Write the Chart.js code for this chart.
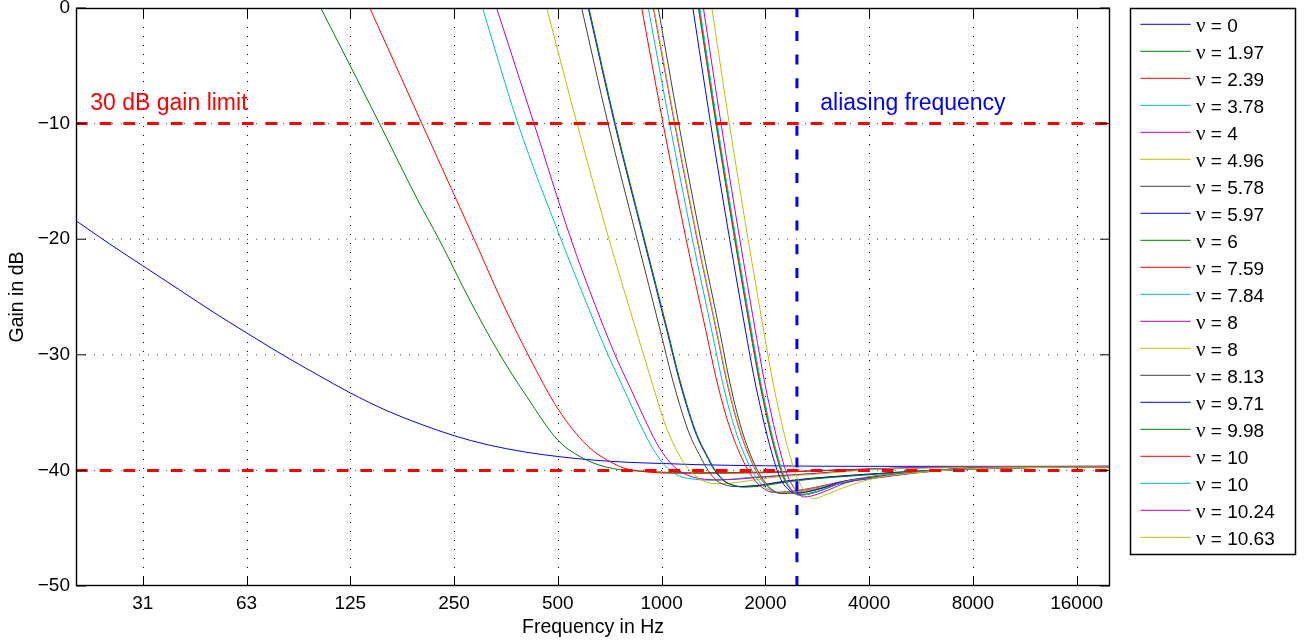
<!DOCTYPE html>
<html><head><meta charset="utf-8">
<script src="https://cdn.jsdelivr.net/npm/chart.js@4/dist/chart.umd.min.js"></script>
<style>html,body{margin:0;padding:0;background:#fff;overflow:hidden}#wrap{width:1306px;height:641px}</style>
</head><body>
<div id="wrap"><canvas id="c" width="1306" height="641"></canvas></div>
<script>
// ---------- data (frequency in Hz, gain in dB) ----------
const nuLabels = ['0','1.97','2.39','3.78','4','4.96','5.78','5.97','6','7.59','7.84','8','8','8.13','9.71','9.98','10','10','10.24','10.63'];
const colorCycle = ['#0000ff','#008000','#ff0000','#00bfbf','#bf00bf','#bfbf00','#404040'];
const xTickValues = [31.25,62.5,125,250,500,1000,2000,4000,8000,16000];
const xTickLabels = ['31','63','125','250','500','1000','2000','4000','8000','16000'];
const yTickValues = [-50,-40,-30,-20,-10,0];
const limitLevels = [-10,-40];
const aliasingFreq = 2470;
const annotationTexts = ['30 dB gain limit','aliasing frequency'];
const annotationFreqs = [22, 2886];
const annotationGains = [-8.8, -8.8];

const gain_nu0 = [[20,-18.4],[25,-20.4],[31.25,-22.3],[40,-24.4],[50,-26.3],[62.5,-28.1],[80,-30.05],[100,-31.7],[125,-33.3],[160,-34.85],[200,-36.0],[250,-37.0],[315,-37.8],[400,-38.4],[500,-38.8],[630,-39.1],[800,-39.3],[1000,-39.4],[1250,-39.5],[2000,-39.6],[4000,-39.65],[20000,-39.65]];
const gain_nu197 = [[102.6,0],[152,-10],[196,-16.6],[226,-20],[278,-25.3],[340,-30],[406,-33.6],[501,-37.4],[606,-39.1],[725,-39.85],[866,-40.05],[1200,-40.2],[2000,-40.15],[3000,-40.0],[5000,-39.8],[8000,-39.7],[20000,-39.65]];
const gain_nu239 = [[142.4,0],[201.6,-10],[286,-20],[343,-25.3],[410,-30],[501,-34.7],[606,-37.8],[725,-39.4],[828,-40.0],[1200,-40.25],[2000,-40.2],[3000,-40.0],[5000,-39.8],[8000,-39.7],[20000,-39.65]];
const gain_nu378 = [[302.4,0],[383,-10],[510.6,-20],[595.6,-25],[699.2,-30],[778.2,-33],[865.8,-36],[938.6,-38],[1016.8,-39.5],[1109,-40.4],[1276,-40.8],[1400,-40.85],[1816,-40.6],[2823,-40.25],[4000,-39.9],[8000,-39.7],[20000,-39.65]];
const gain_nu4 = [[332.2,0],[426.4,-10],[546,-20],[628.4,-25],[732.8,-30],[815.4,-33],[907.6,-36],[983.2,-38],[1072.6,-39.5],[1186,-40.4],[1383,-40.8],[1480,-40.82],[2020,-40.55],[2823,-40.25],[4000,-39.9],[8000,-39.7],[20000,-39.65]];
const gain_nu496 = [[464.2,0],[568.4,-10],[703.8,-20],[788.8,-25],[886.6,-30],[951.2,-33],[1023.6,-36],[1094.4,-38],[1170,-39.5],[1259.4,-40.5],[1383,-41.1],[1498,-41.15],[1690,-41.0],[2112,-40.6],[2886,-40.3],[4000,-39.95],[8000,-39.75],[20000,-39.65]];
const gain_nu578 = [[586.4,0],[699.2,-10],[849,-20],[993.2,-28],[1072.6,-32],[1147,-35],[1210,-37],[1285,-38.6],[1364.6,-40],[1449.2,-40.9],[1549.6,-41.3],[1634.6,-41.4],[1890,-41.3],[2309,-40.9],[4113,-40.3],[8030,-39.85],[20000,-39.7]];
const gain_nu597 = [[612.8,0],[730.7,-10],[887.2,-20],[1037.9,-28],[1120.9,-32],[1198.6,-35],[1264.5,-37],[1342.8,-38.6],[1426,-40],[1514.4,-40.9],[1619.3,-41.3],[1708,-41.4],[1932,-41.3],[2361,-40.9],[4113,-40.3],[8030,-39.85],[20000,-39.7]];
const gain_nu6 = [[615.7,0],[734.2,-10],[891.5,-20],[1042.9,-28],[1126.2,-32],[1204.4,-35],[1270.5,-37],[1349.3,-38.6],[1432.8,-40],[1521.7,-40.9],[1627.1,-41.3],[1716.3,-41.45],[1940,-41.35],[2370,-40.95],[4113,-40.35],[8030,-39.85],[20000,-39.7]];
const gain_nu759 = [[875.6,0],[1010,-10],[1178,-20],[1346.4,-28],[1439.4,-32],[1529,-35],[1607.6,-37],[1690.2,-38.6],[1783.2,-40],[1881.4,-41],[1984.6,-41.6],[2108,-41.9],[2524,-41.7],[3300,-41.0],[4113,-40.5],[5745,-40.1],[8030,-39.85],[20000,-39.7]];
const gain_nu784 = [[915,0],[1055.5,-10],[1228.7,-20],[1400,-28],[1492.7,-32],[1581,-35],[1657.4,-37],[1737.5,-38.6],[1827.8,-40],[1922.8,-41],[2024.3,-41.6],[2150,-41.9],[2524,-41.75],[3300,-41.05],[4113,-40.5],[5745,-40.1],[8030,-39.85],[20000,-39.7]];
const gain_nu8a = [[946.5,0],[1090.8,-10],[1267.5,-20],[1443.3,-28],[1537.3,-32],[1626.9,-35],[1704.1,-37],[1784.9,-38.6],[1875.9,-40],[1971.7,-41],[2071.9,-41.65],[2192.3,-41.95],[2524,-41.8],[3300,-41.1],[4113,-40.55],[5745,-40.1],[8030,-39.85],[20000,-39.7]];
const gain_nu8b = [[950.3,0],[1095.2,-10],[1272.6,-20],[1449,-28],[1543.4,-32],[1633.4,-35],[1710.9,-37],[1792,-38.6],[1883.4,-40],[1979.6,-41],[2080.2,-41.65],[2201,-41.95],[2534,-41.8],[3300,-41.1],[4113,-40.55],[5745,-40.1],[8030,-39.85],[20000,-39.7]];
const gain_nu813 = [[978,0],[1121.1,-10],[1299.3,-20],[1475.7,-28],[1567.5,-32],[1654.4,-35],[1729.8,-37],[1808.5,-38.6],[1899.1,-40],[1994.3,-41],[2097.7,-41.7],[2224,-42.0],[2610,-41.85],[3300,-41.15],[4113,-40.6],[5745,-40.15],[8030,-39.85],[20000,-39.7]];
const gain_nu971 = [[1232.4,0],[1387.6,-10],[1575.8,-20],[1754,-28],[1856.4,-32],[1951.6,-35],[2024.6,-37],[2093.6,-38.6],[2164.6,-40],[2238.2,-41],[2322.2,-41.6],[2442,-42.0],[2610,-41.9],[2944,-41.5],[3300,-41.0],[4113,-40.6],[5745,-40.1],[8030,-39.8],[20000,-39.7]];
const gain_nu998 = [[1279.2,0],[1437.6,-10],[1629.4,-20],[1810.1,-28],[1912.1,-32],[2006.2,-35],[2077.2,-37],[2146,-38.6],[2216.6,-40],[2287.4,-41],[2371,-41.65],[2491,-42.1],[2663,-42.0],[2984,-41.6],[3366,-41.0],[4113,-40.65],[5745,-40.1],[8030,-39.8],[20000,-39.7]];
const gain_nu10a = [[1285,0],[1444.1,-10],[1636.7,-20],[1818.2,-28],[1920.7,-32],[2015.2,-35],[2086.5,-37],[2155.7,-38.6],[2226.6,-40],[2297.7,-41],[2381.7,-41.7],[2502.2,-42.15],[2670,-42.05],[2990,-41.6],[3370,-41.0],[4113,-40.65],[5745,-40.1],[8030,-39.8],[20000,-39.7]];
const gain_nu10b = [[1290.7,0],[1450.5,-10],[1644.1,-20],[1826.4,-28],[1929.3,-32],[2024.3,-35],[2095.9,-37],[2165.3,-38.6],[2236.6,-40],[2308,-41],[2392.3,-41.7],[2513.3,-42.15],[2676,-42.05],[2996,-41.6],[3375,-41.0],[4113,-40.65],[5745,-40.1],[8030,-39.8],[20000,-39.7]];
const gain_nu1024 = [[1322.4,0],[1487.5,-10],[1686.1,-20],[1873.3,-28],[1978.9,-32],[2076.5,-35],[2150.1,-37],[2219.2,-38.6],[2290.2,-40],[2365.8,-41],[2452.2,-41.7],[2576.3,-42.3],[2735,-42.2],[3044,-41.7],[3480,-41.0],[4113,-40.7],[5745,-40.15],[8030,-39.85],[20000,-39.7]];
const gain_nu1063 = [[1398.8,0],[1572.2,-10],[1782.2,-20],[1980.3,-28],[2092.2,-32],[2195.6,-35],[2275.7,-37],[2351.1,-38.6],[2428.7,-40],[2509,-41],[2600.9,-41.8],[2760,-42.45],[2944,-42.2],[3300,-41.6],[4113,-40.7],[5745,-40.15],[8030,-39.85],[20000,-39.7]];

const curveSeries = [gain_nu0,gain_nu197,gain_nu239,gain_nu378,gain_nu4,gain_nu496,gain_nu578,gain_nu597,gain_nu6,gain_nu759,gain_nu784,gain_nu8a,gain_nu8b,gain_nu813,gain_nu971,gain_nu998,gain_nu10a,gain_nu10b,gain_nu1024,gain_nu1063];

// ---------- chart ----------
const FONT = '"Liberation Sans", Arial, Helvetica, sans-serif';
const datasets = curveSeries.map((pts, i) => ({
  label: 'ν = ' + nuLabels[i],
  data: pts.map(p => ({x: p[0], y: p[1]})),
  borderColor: colorCycle[i % colorCycle.length],
  borderWidth: 1,
  pointRadius: 0,
  fill: false,
  cubicInterpolationMode: 'monotone',
  order: 100 - i,
  isCurve: true
}));
limitLevels.forEach(l => datasets.push({
  label: 'limit', data: [{x: 20, y: l}, {x: 20000, y: l}],
  borderColor: '#ff0000', borderWidth: 3, borderDash: [11.7, 12], pointRadius: 0, order: -1
}));
datasets.push({
  label: 'aliasing', data: [{x: aliasingFreq, y: -50}, {x: aliasingFreq, y: 0}],
  borderColor: '#0000ff', borderWidth: 3, borderDash: [10, 13.7], pointRadius: 0, order: -2
});

const framePlugin = {
  id: 'frame',
  beforeDatasetsDraw(chart) {
    const {ctx, chartArea: a, scales: {x, y}} = chart;
    ctx.save();
    ctx.strokeStyle = '#000';
    ctx.lineWidth = 1;
    ctx.setLineDash([1, 8]);
    xTickValues.forEach(v => {
      const px = Math.round(x.getPixelForValue(v)) + 0.5;
      ctx.beginPath(); ctx.moveTo(px, a.bottom); ctx.lineTo(px, a.top); ctx.stroke();
    });
    ctx.strokeStyle = '#444';
    yTickValues.forEach(v => {
      if (v <= -50 || v >= 0) return;
      const py = y.getPixelForValue(v);
      ctx.beginPath(); ctx.moveTo(a.left, py); ctx.lineTo(a.right, py); ctx.stroke();
    });
    ctx.restore();
  },
  afterDatasetsDraw(chart) {
    const {ctx, chartArea: a, scales: {x, y}} = chart;
    ctx.save();
    ctx.strokeStyle = '#000';
    ctx.lineWidth = 1;
    ctx.setLineDash([]);
    xTickValues.forEach(v => {
      const px = Math.round(x.getPixelForValue(v)) + 0.5;
      ctx.beginPath();
      ctx.moveTo(px, a.bottom); ctx.lineTo(px, a.bottom - 10);
      ctx.moveTo(px, a.top); ctx.lineTo(px, a.top + 10);
      ctx.stroke();
    });
    yTickValues.forEach(v => {
      const py = y.getPixelForValue(v);
      ctx.beginPath();
      ctx.moveTo(a.left, py); ctx.lineTo(a.left + 10, py);
      ctx.moveTo(a.right, py); ctx.lineTo(a.right - 10, py);
      ctx.stroke();
    });
    ctx.lineWidth = 1.4;
    ctx.strokeRect(a.left + 0.5, a.top + 0.5, a.right - a.left - 1, a.bottom - a.top - 1);
    ctx.font = '23px ' + FONT;
    ctx.textBaseline = 'alphabetic';
    ctx.textAlign = 'left';
    const annColors = ['#ff0000', '#0000ff'];
    annotationTexts.forEach((t, i) => {
      ctx.fillStyle = annColors[i];
      ctx.fillText(t, x.getPixelForValue(annotationFreqs[i]), y.getPixelForValue(annotationGains[i]));
    });
    ctx.restore();
  },
  afterDraw(chart) {
    const ctx = chart.ctx;
    const L = 1130, T = 8, R = 1295, B = 554;
    ctx.save();
    ctx.fillStyle = '#fff';
    ctx.fillRect(L, T, R - L, B - T);
    ctx.strokeStyle = '#000';
    ctx.lineWidth = 1.5;
    ctx.strokeRect(L + 0.5, T + 0.5, R - L, B - T);
    const items = chart.data.datasets.filter(d => d.isCurve);
    items.forEach((d, i) => {
      const cy = 24.3 + 27 * i;
      ctx.strokeStyle = d.borderColor;
      ctx.lineWidth = 1;
      ctx.beginPath(); ctx.moveTo(1140.3, cy); ctx.lineTo(1190.7, cy); ctx.stroke();
      ctx.fillStyle = '#000';
      ctx.textBaseline = 'alphabetic';
      ctx.font = '21px "Liberation Serif", serif';
      ctx.fillText('ν', 1196, cy + 8);
      const w = ctx.measureText('ν').width;
      ctx.font = '19px ' + FONT;
      ctx.fillText(' = ' + nuLabels[i], 1196 + w, cy + 8);
    });
    ctx.restore();
  }
};

new Chart(document.getElementById('c'), {
  type: 'line',
  data: {datasets},
  options: {
    responsive: false,
    animation: false,
    devicePixelRatio: 1,
    layout: {padding: {left: 0, right: 196, top: 8, bottom: 0}},
    plugins: {legend: {display: false}, tooltip: {enabled: false}},
    scales: {
      x: {
        type: 'logarithmic', min: 20, max: 20000,
        afterBuildTicks: s => { s.ticks = xTickValues.map(v => ({value: v})); },
        afterFit: s => { s.height = 55; s.paddingLeft = 0; s.paddingRight = 0; },
        ticks: {autoSkip: false, maxRotation: 0, minRotation: 0, padding: 6, color: '#000',
          font: {family: FONT, size: 19}, callback: (v, i) => xTickLabels[i]},
        grid: {display: false, drawTicks: false},
        border: {display: false},
        title: {display: true, text: 'Frequency in Hz', color: '#000', font: {family: FONT, size: 19.5}, padding: {top: 0, bottom: 2}}
      },
      y: {
        type: 'linear', min: -50, max: 0,
        afterBuildTicks: s => { s.ticks = yTickValues.map(v => ({value: v})); },
        afterFit: s => { s.width = 76; s.paddingTop = 0; s.paddingBottom = 0; },
        ticks: {padding: 6, color: '#000', font: {family: FONT, size: 19},
          callback: v => v < 0 ? '\u2212' + (-v) : String(v)},
        grid: {display: false, drawTicks: false},
        border: {display: false},
        title: {display: true, text: 'Gain in dB', color: '#000', font: {family: FONT, size: 19.5}, padding: {top: 6, bottom: 0}}
      }
    }
  },
  plugins: [framePlugin]
});
</script>
</body></html>
